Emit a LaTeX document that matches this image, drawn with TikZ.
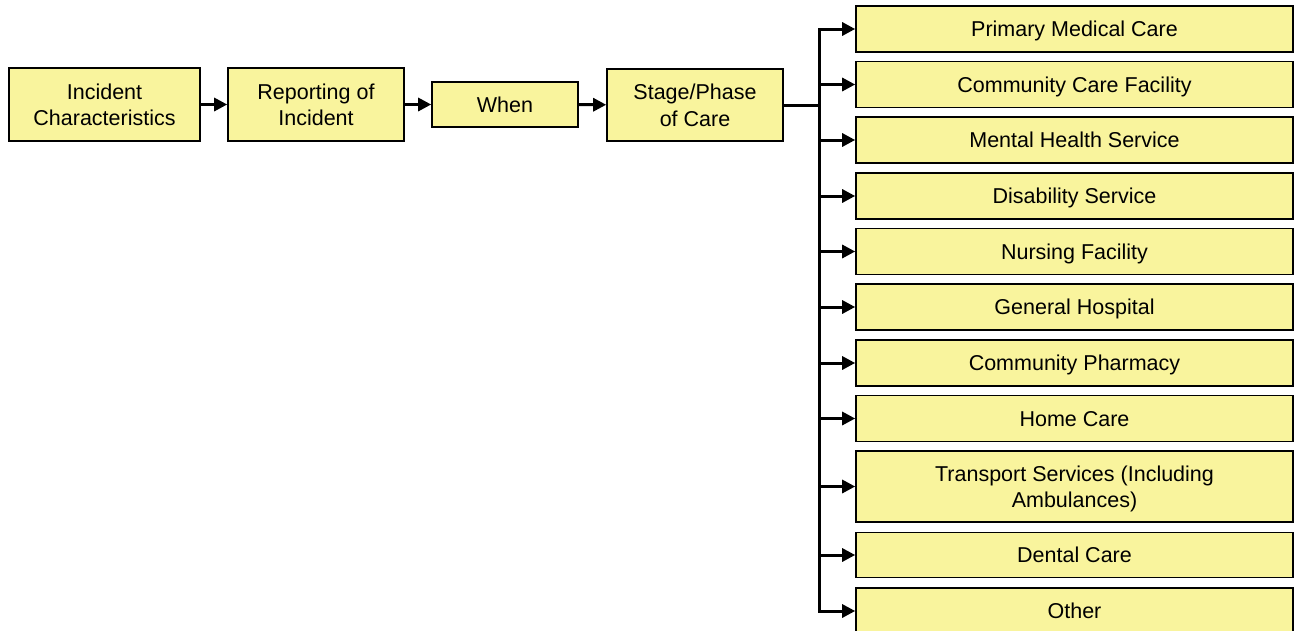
\documentclass[tikz,border=0pt]{standalone}
\usepackage{fontspec}
\setmainfont{Liberation Sans}
\usetikzlibrary{arrows.meta}
\definecolor{boxfill}{RGB}{249,244,157}
\begin{document}
\begin{tikzpicture}[x=1pt,y=-1pt,
  box/.style={draw=black,line width=1.6pt,fill=boxfill,inner sep=0pt,align=center,
    text depth=0pt,font=\fontsize{21.5}{26.5}\selectfont},
  conn/.style={line width=3pt,-{Triangle[length=13pt,width=13pt]}}]
\useasboundingbox (0,0) rectangle (1294,630);
\node[box,minimum width=191pt,minimum height=73pt] (ic) at (104.5,104.5) {Incident\\Characteristics};
\node[box,minimum width=176pt,minimum height=73pt] (ri) at (316,104.5) {Reporting of\\Incident};
\node[box,minimum width=146pt,minimum height=45pt] (wh) at (505,104.5) {When};
\node[box,minimum width=176pt,minimum height=72pt] (st) at (695,105) {Stage/Phase\\of Care};
\coordinate (tr) at (819,105);
\foreach \n/\y/\h/\t in {a/29/46/Primary Medical Care,
  b/84.5/46/Community Care Facility,
  c/140/46/Mental Health Service,
  d/196/46/Disability Service,
  e/251.5/46/Nursing Facility,
  f/307/46/General Hospital,
  g/363/46/Community Pharmacy,
  h/418.5/46/Home Care,
  i/486.5/71/{Transport Services (Including\\Ambulances)},
  j/555/45/Dental Care,
  k/611/46/Other}{
  \node[box,minimum width=437pt,minimum height=\h pt] (\n) at (1074.5,\y) {\t};
}
\draw[conn] (ic) -- (ri);
\draw[conn] (ri) -- (wh);
\draw[conn] (wh) -- (st);
\draw[line width=3pt] (st.east) -- (tr);
\foreach \n in {a,b,c,d,e,f,g,h,i,j,k}{
  \draw[conn] (tr) |- (\n.west);
}
\end{tikzpicture}
\end{document}
